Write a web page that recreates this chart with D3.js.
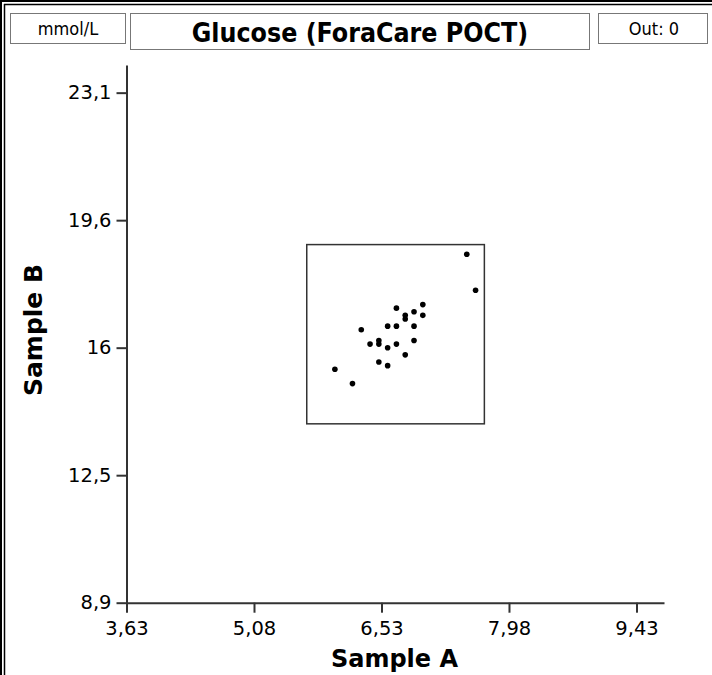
<!DOCTYPE html>
<html>
<head>
<meta charset="utf-8">
<script src="https://cdn.jsdelivr.net/npm/d3@7"></script>
<style>
  html, body { margin: 0; padding: 0; background: #fff; }
  svg { display: block; }
</style>
</head>
<body>
<svg id="chart" width="712" height="675"></svg>
<script>
// ---- data ----
const unitLabel = "mmol/L";
const titleText = "Glucose (ForaCare POCT)";
const outLabel = "Out: 0";
const xLabel = "Sample A";
const yLabel = "Sample B";
const xTicks = [3.63, 5.08, 6.53, 7.98, 9.43];
const yTicks = [8.9, 12.45, 16, 19.55, 23.1];
const xDomain = [3.63, 9.743];
const yDomain = [8.9, 23.87];
const sampleA = [7.5, 7.6, 7.0, 6.7, 6.9, 7.0, 6.8, 6.8, 6.3, 6.6, 6.7, 6.9, 6.5, 6.5, 6.4, 6.7, 6.9, 6.6, 6.8, 6.5, 6.6, 6.0, 6.2];
const sampleB = [18.6, 17.6, 17.2, 17.1, 17.0, 16.9, 16.9, 16.8, 16.5, 16.6, 16.6, 16.6, 16.2, 16.1, 16.1, 16.1, 16.2, 16.0, 15.8, 15.6, 15.5, 15.4, 15.0];
const boxX = [5.68, 7.70];
const boxY = [13.88, 18.87];

const fmt = v => (Math.round(v * 100) / 100).toString().replace(".", ",");
const yFmt = v => (Math.round(v * 10) / 10).toString().replace(".", ",");

const svg = d3.select("#chart");

// outer frame (top and left edges)
svg.append("line").attr("x1", 0).attr("x2", 712).attr("y1", 1).attr("y2", 1)
  .attr("stroke", "#000").attr("stroke-width", 2);
svg.append("line").attr("x1", 1).attr("x2", 1).attr("y1", 0).attr("y2", 675)
  .attr("stroke", "#000").attr("stroke-width", 2);
svg.append("line").attr("x1", 4.5).attr("x2", 4.5).attr("y1", 4).attr("y2", 675)
  .attr("stroke", "#000").attr("stroke-width", 1.5);
svg.append("line").attr("x1", 4).attr("x2", 712).attr("y1", 4.5).attr("y2", 4.5)
  .attr("stroke", "#000").attr("stroke-width", 1.5);

// header boxes
const condFont = "'DejaVu Sans Condensed', 'DejaVu Sans', sans-serif";
svg.append("rect").attr("x", 10.5).attr("y", 13.5).attr("width", 115).attr("height", 30)
  .attr("fill", "#fff").attr("stroke", "#777").attr("stroke-width", 1);
svg.append("text").attr("x", 68).attr("y", 35).attr("text-anchor", "middle")
  .style("font-family", condFont).style("font-size", "18px").text(unitLabel);

svg.append("rect").attr("x", 130.5).attr("y", 13.5).attr("width", 459).attr("height", 36)
  .attr("fill", "#fff").attr("stroke", "#777").attr("stroke-width", 1);
svg.append("text").attr("x", 360).attr("y", 42).attr("text-anchor", "middle")
  .style("font-family", condFont).style("font-weight", "bold").style("font-size", "26.5px").text(titleText);

svg.append("rect").attr("x", 598.5).attr("y", 13.5).attr("width", 109).attr("height", 30)
  .attr("fill", "#fff").attr("stroke", "#777").attr("stroke-width", 1);
svg.append("text").attr("x", 654).attr("y", 35).attr("text-anchor", "middle")
  .style("font-family", condFont).style("font-size", "18px").text(outLabel);

// scales
const x = d3.scaleLinear().domain(xDomain).range([126.5, 664]);
const y = d3.scaleLinear().domain(yDomain).range([602.7, 65]);

const tickFont = "'DejaVu Sans', sans-serif";

const xAxis = svg.append("g").attr("transform", `translate(0,${y(yDomain[0])})`)
  .call(d3.axisBottom(x).tickValues(xTicks).tickFormat(fmt).tickSizeInner(10).tickSizeOuter(0).tickPadding(8));
const yAxis = svg.append("g").attr("transform", `translate(${x(xDomain[0])},0)`)
  .call(d3.axisLeft(y).tickValues(yTicks).tickFormat(yFmt).tickSizeInner(10).tickSizeOuter(0).tickPadding(5));
[xAxis, yAxis].forEach(g => {
  g.select(".domain").attr("stroke", "#333").attr("stroke-width", 2);
  g.selectAll(".tick line").attr("stroke", "#333").attr("stroke-width", 2);
  g.selectAll(".tick text").attr("fill", "#000").style("font-family", tickFont).style("font-size", "19.5px");
});

// axis titles
svg.append("text").attr("x", x(6.53) + 13).attr("y", 667).attr("text-anchor", "middle")
  .style("font-family", tickFont).style("font-weight", "bold").style("font-size", "24px").text(xLabel);
svg.append("text").attr("transform", `translate(42,330) rotate(-90)`).attr("text-anchor", "middle")
  .style("font-family", tickFont).style("font-weight", "bold").style("font-size", "25px").text(yLabel);

// range box
svg.append("rect")
  .attr("x", x(boxX[0])).attr("y", y(boxY[1]))
  .attr("width", x(boxX[1]) - x(boxX[0])).attr("height", y(boxY[0]) - y(boxY[1]))
  .attr("fill", "none").attr("stroke", "#333").attr("stroke-width", 1.5);

// points
svg.append("g").selectAll("circle").data(sampleA.map((a, i) => [a, sampleB[i]]))
  .join("circle")
  .attr("cx", d => x(d[0])).attr("cy", d => y(d[1])).attr("r", 2.8).attr("fill", "#000");
</script>
</body>
</html>
